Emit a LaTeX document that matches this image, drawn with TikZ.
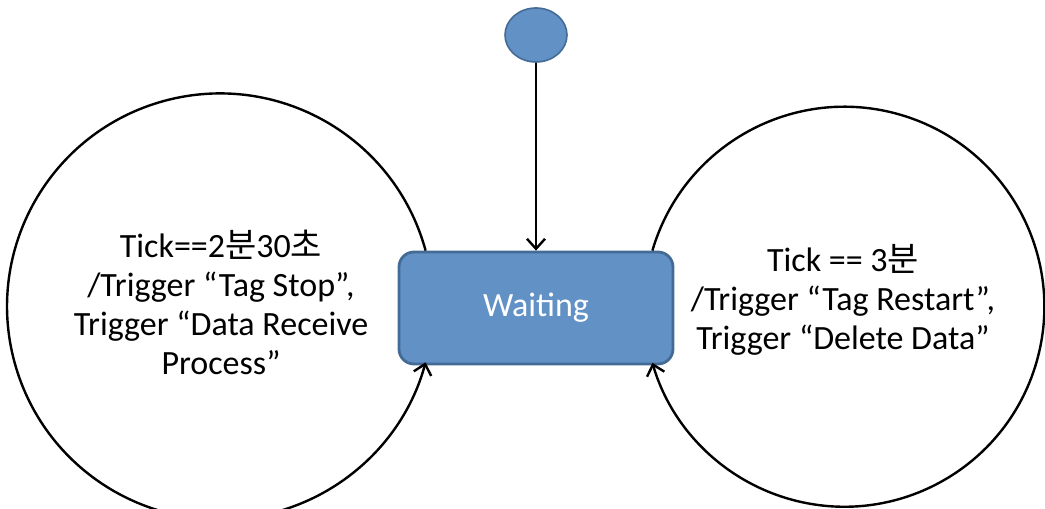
\documentclass[tikz,border=0pt]{standalone}
\usepackage{fontspec}
\setmainfont{Carlito}
\newfontfamily\krfont{Noto Sans CJK KR}
\usetikzlibrary{shapes, arrows.meta, positioning}
\definecolor{stateblue}{RGB}{98,146,197}
\definecolor{stateedge}{RGB}{68,106,150}
\tikzstyle{startdot} = [
    ellipse,
    draw=stateedge,
    fill=stateblue,
    thick,
    minimum width=31pt,
    minimum height=27pt,
    inner sep=0pt
]
\tikzstyle{statebox} = [
    rectangle,
    rounded corners=7.5pt,
    draw=stateedge,
    fill=stateblue,
    line width=1.4pt,
    minimum width=137pt,
    minimum height=56pt,
    text=white,
    font=\fontsize{17}{19.5}\selectfont,
    text centered
]
\tikzstyle{guard} = [
    align=center,
    font=\fontsize{17}{19.5}\selectfont
]
\tikzstyle{transition} = [
    ->,
    line width=1.2pt
]

\begin{document}
\begin{tikzpicture}[x=0.5pt, y=0.5pt, >={Straight Barb[length=5pt,width=9pt]}]
            \useasboundingbox (0,0) rectangle (1045,509);
            \node[startdot] (start) at (536,474) {};
            \node[statebox] (waiting) [below of=start, node distance=136.5pt] {Waiting};
            \node[guard] (stop) [left of=waiting, node distance=157.5pt, yshift=3pt] {Tick==2{\krfont 분}30{\krfont 초}\\/Trigger “Tag Stop”,\\Trigger “Data Receive\\Process”};
            \node[guard] (restart) [right of=waiting, node distance=153.5pt, yshift=4pt] {Tick == 3{\krfont 분}\\/Trigger “Tag Restart”,\\Trigger “Delete Data”};
            
            \draw[transition] (start) -- (waiting);
            \draw[transition] ([xshift=14pt]waiting.north west) arc[start angle=15.2, end angle=344.8, radius=106.5pt];
            \draw[transition] ([xshift=-11pt]waiting.north east) arc[start angle=163.7, end angle=-163.7, radius=100pt];
        \end{tikzpicture}
\end{document}
